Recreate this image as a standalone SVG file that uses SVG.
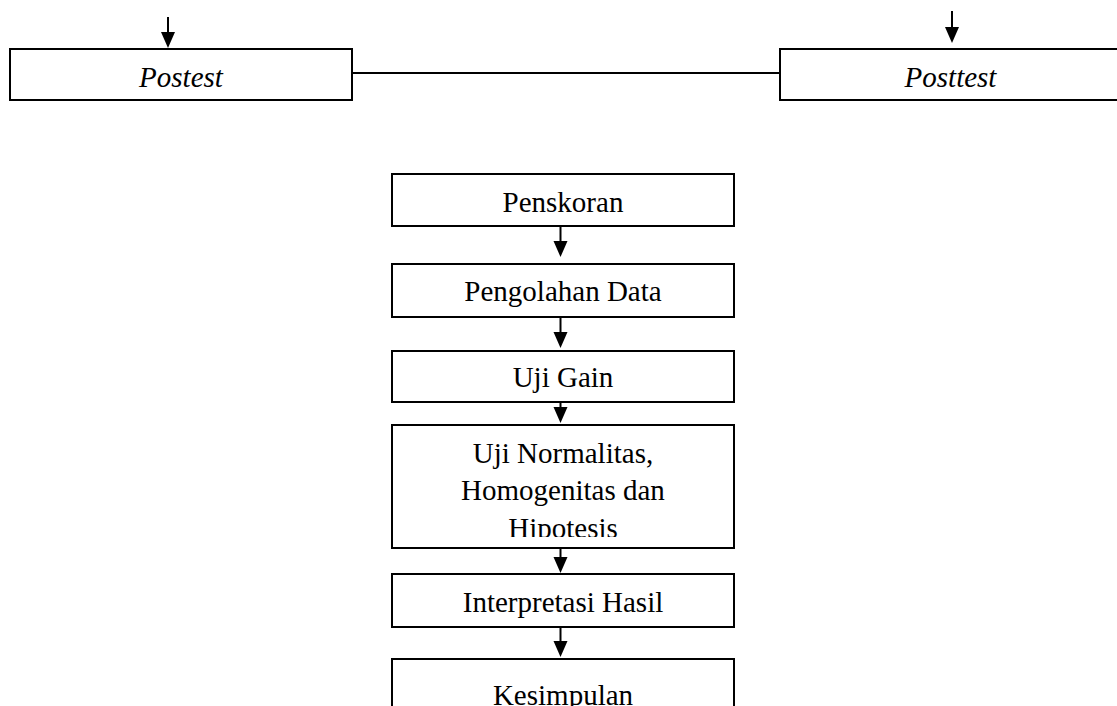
<svg xmlns="http://www.w3.org/2000/svg" width="1117" height="706" viewBox="0 0 1117 706">
<style>
.box{fill:#fff;stroke:#000;stroke-width:2}
.t{font-family:"Liberation Serif","Times New Roman",serif;font-size:29px;fill:#000;text-anchor:middle}
.i{font-style:italic}
.ln{stroke:#000;stroke-width:2;fill:none}
.ah{fill:#000}
</style>
<defs>
<clipPath id="clipN"><rect x="393" y="426" width="340" height="111"/></clipPath>
</defs>
<rect width="1117" height="706" fill="#fff"/>
<g id="connectors">
<line class="ln" x1="168" y1="17" x2="168" y2="34"/>
<polygon class="ah" points="161,32 175,32 168,48"/>
<line class="ln" x1="952" y1="11" x2="952" y2="29"/>
<polygon class="ah" points="945,27 959,27 952,43"/>
<line class="ln" x1="352" y1="73" x2="780" y2="73"/>
<line class="ln" x1="560.5" y1="226" x2="560.5" y2="243"/>
<polygon class="ah" points="553.5,241 567.5,241 560.5,257"/>
<line class="ln" x1="560.5" y1="317" x2="560.5" y2="334"/>
<polygon class="ah" points="553.5,332 567.5,332 560.5,348"/>
<line class="ln" x1="560.5" y1="402" x2="560.5" y2="409"/>
<polygon class="ah" points="553.5,407 567.5,407 560.5,423"/>
<line class="ln" x1="560.5" y1="548" x2="560.5" y2="559"/>
<polygon class="ah" points="553.5,557 567.5,557 560.5,573"/>
<line class="ln" x1="560.5" y1="627" x2="560.5" y2="643"/>
<polygon class="ah" points="553.5,641 567.5,641 560.5,657"/>
</g>
<g id="postest">
<rect class="box" x="10" y="49" width="342" height="51"/>
<text class="t i" x="181" y="87">Postest</text>
</g>
<g id="posttest">
<rect class="box" x="780" y="49" width="341" height="51"/>
<text class="t i" x="950.5" y="87">Posttest</text>
</g>
<g id="penskoran">
<rect class="box" x="392" y="174" width="342" height="52"/>
<text class="t" x="563" y="212">Penskoran</text>
</g>
<g id="pengolahan">
<rect class="box" x="392" y="264" width="342" height="53"/>
<text class="t" x="563" y="301">Pengolahan Data</text>
</g>
<g id="ujigain">
<rect class="box" x="392" y="351" width="342" height="51"/>
<text class="t" x="563" y="387">Uji Gain</text>
</g>
<g id="ujinormalitas">
<rect class="box" x="392" y="425" width="342" height="123"/>
<g clip-path="url(#clipN)">
<text class="t" x="563" y="463">Uji Normalitas,</text>
<text class="t" x="563" y="500">Homogenitas dan</text>
<text class="t" x="563" y="538">Hipotesis</text>
</g>
</g>
<g id="interpretasi">
<rect class="box" x="392" y="574" width="342" height="53"/>
<text class="t" x="563" y="612">Interpretasi Hasil</text>
</g>
<g id="kesimpulan">
<rect class="box" x="392" y="659" width="342" height="60"/>
<text class="t" x="563" y="705">Kesimpulan</text>
</g>
</svg>
